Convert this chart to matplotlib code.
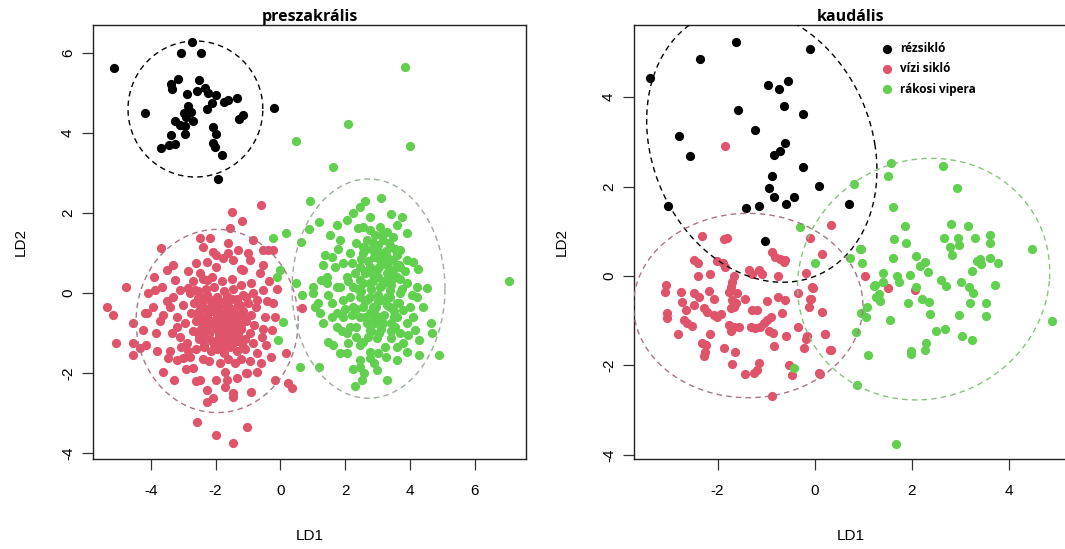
import numpy as np
import matplotlib
matplotlib.use("Agg")
import matplotlib.pyplot as plt

# ---------------- data ----------------
titles = ["preszakrális", "kaudális"]
species = ["rézsikló", "vízi sikló", "rákosi vipera"]
colors = ["#000000", "#DF536B", "#61D04F"]

# preszakrális – rézsikló (black)
pre_black_x = [-5.13, -2.71, -3.07, -2.44, -3.15, -3.38, -3.33, -2.50, -2.33, -2.57, -2.23, -2.88,
               -1.97, -2.12, -1.73, -1.61, -1.35, -2.84, -2.27, -4.18, -0.20, -2.97, -2.77, -2.91,
               -2.68, -3.25, -3.10, -2.94, -1.27, -1.14, -2.09, -1.99, -3.36, -2.95, -2.09, -2.03,
               -3.43, -3.24, -3.67, -1.81, -1.92]
pre_black_y = [5.62, 6.28, 6.00, 5.99, 5.35, 5.23, 5.10, 5.32, 5.13, 5.06, 5.01, 4.98,
               4.94, 4.76, 4.78, 4.82, 4.88, 4.68, 4.59, 4.49, 4.62, 4.49, 4.53, 4.39,
               4.31, 4.29, 4.20, 4.17, 4.36, 4.45, 4.16, 3.98, 3.95, 3.97, 3.74, 3.66,
               3.69, 3.72, 3.62, 3.46, 2.86]

# preszakrális – vízi sikló (red)
pre_red_x = [-0.61, -1.50, -1.19, -1.56, -2.48, -2.17, -1.61, -0.84, -3.68, -2.38, -2.07, -1.30,
             -0.53, -0.37, -0.22, -3.51, -4.77, -5.34, -5.16, -5.07, -4.54, -4.54, -4.54, -4.33,
             -4.13, -4.23, -4.18, -3.92, -4.08, -3.87, -3.66, -3.25, -3.10, -2.84, -3.61, -3.41,
             -3.20, -3.10, -2.89, -3.46, -3.20, -3.00, -2.79, -3.61, -3.28, -2.69, -2.48, -2.27,
             -2.27, -2.07, -1.97, -1.71, -1.45, -1.45, -0.89, -2.58, -1.97, -1.45, -1.04, -0.17,
             0.24, 0.35, 0.19, -0.22, -0.48, -0.27, 0.66, -0.73, -0.73, -1.04, -1.35, -1.66,
             -0.63, -0.53, -0.73, -0.58, -0.94, -1.14, -1.45, -1.76, -1.97, -2.27, -2.48, -2.27,
             -2.64,
             -2.70, -2.40, -2.10, -1.80, -1.50, -1.20, -0.90,
             -2.80, -2.55, -2.30, -2.05, -1.75, -1.45, -1.15, -0.85,
             -2.65, -2.40, -2.20, -1.95, -1.70, -1.50, -1.30, -1.00, -0.75,
             -2.75, -2.50, -2.30, -2.10, -1.90, -1.65, -1.40, -1.15, -0.90,
             -2.60, -2.35, -2.15, -1.95, -1.75, -1.55, -1.30, -1.05, -0.80,
             -2.70, -2.45, -2.25, -2.00, -1.80, -1.60, -1.40, -1.20, -0.95,
             -2.50, -2.30, -2.10, -1.90, -1.70, -1.50, -1.30, -1.10, -0.85,
             -2.60, -2.35, -2.15, -1.95, -1.75, -1.55, -1.35, -1.10,
             -2.40, -2.20, -1.85, -1.60, -1.40, -1.20, -0.95,
             -2.05, -1.85, -2.25, -1.55, -1.65, -2.00, -1.85, -2.45, -1.25,
             -3.30, -3.00, -3.20, -2.95, -3.05, -2.85, -3.35, -3.50, -3.70, -3.85, -3.40, -0.55,
             -0.45, -0.60, -0.35, -0.55, -1.20, -2.60, -2.85, -3.30, -2.00, -1.60, -1.00, -0.40,
             -2.90, -1.05, -1.70, -2.60, -3.80, -4.10, -3.90, -0.30, -0.15, -0.10,
             -2.55, -2.25, -1.95, -1.65, -1.35, -1.05, -2.45, -2.15, -1.85, -1.55, -1.25,
             -2.55, -2.25, -1.95, -1.65, -1.35, -1.05, -2.40, -2.10, -1.80, -1.50, -1.20,
             -2.50, -2.20, -1.90, -1.60, -1.30, -2.05, -1.75, -1.45, -2.35, -1.15]
pre_red_y = [2.21, 2.02, 1.81, 1.62, 1.37, 1.37, 1.24, 1.33, 1.12, 1.16, 1.03, 1.08,
             1.08, 1.08, 1.08, 0.58, 0.16, -0.34, -0.55, -1.26, -0.76, -1.26, -1.55, -1.38,
             -1.30, -0.93, -0.51, -0.34, -0.01, 0.08, 0.16, 0.33, 0.08, 0.12, -0.55, -0.34,
             -0.84, -1.09, -1.26, -1.63, -1.68, -1.63, -1.59, -1.97, -2.18, -1.88, -2.18, -2.43,
             -2.72, -2.63, -2.18, -1.97, -2.51, -2.60, -2.47, -3.22, -3.55, -3.76, -3.36, -2.18,
             -2.26, -2.38, -1.51, -0.26, -0.59, -0.93, -0.38, -1.51, -1.97, -2.01, -2.13, -2.18,
             0.49, 0.08, -0.18, -1.09, 0.83, 0.58, 0.83, 0.87, 0.66, 0.78, 0.49, 0.33,
             0.08,
             0.30, 0.35, 0.40, 0.30, 0.35, 0.20, 0.25,
             0.00, 0.05, 0.10, 0.15, 0.05, 0.10, -0.05, 0.00,
             -0.25, -0.20, -0.15, -0.10, -0.20, -0.15, -0.30, -0.25, -0.35,
             -0.50, -0.45, -0.40, -0.45, -0.35, -0.45, -0.50, -0.45, -0.55,
             -0.70, -0.65, -0.70, -0.60, -0.70, -0.65, -0.75, -0.70, -0.80,
             -0.95, -0.90, -0.85, -0.90, -0.95, -0.85, -0.95, -0.90, -1.00,
             -1.15, -1.10, -1.20, -1.10, -1.20, -1.10, -1.20, -1.15, -1.25,
             -1.40, -1.35, -1.45, -1.40, -1.50, -1.35, -1.45, -1.40,
             -1.65, -1.70, -1.75, -1.65, -1.75, -1.65, -1.70,
             -0.25, -0.50, -0.95, -0.95, -0.30, -0.75, -1.30, -0.10, -0.55,
             -0.10, -0.30, -0.60, -0.75, -1.35, -1.45, -1.00, -0.20, -0.70, -1.00, -1.45, -0.90,
             -1.30, -1.75, 0.30, 0.70, 0.60, 0.75, 0.55, 0.70, 0.95, 1.00, 1.00, -0.20,
             -1.90, -2.00, -2.35, -2.20, -1.45, -0.50, 0.40, -1.60, -0.60, 0.10,
             -0.12, -0.05, -0.18, -0.08, -0.15, -0.10, -0.35, -0.32, -0.28, -0.38, -0.30,
             -0.58, -0.55, -0.52, -0.60, -0.57, -0.62, -0.82, -0.78, -0.85, -0.80, -0.88,
             -1.05, -1.02, -1.00, -1.08, -1.05, -1.28, -1.30, -1.25, -1.30, -1.35]

# preszakrális – rákosi vipera (green)
pre_green_x = [3.84, 2.10, 4.01, 0.47, 1.63, 0.90, 7.05,
               1.20, 0.89, 0.19, -0.22, 0.64, -0.01, -0.11, 0.48, 0.66, 1.02, 1.17, 0.09, -0.06,
               0.60, 1.20, 1.32, 1.48, 1.63, 1.84, 2.05, 2.46, 2.25, 2.58, 2.30, 2.51, 2.97, 3.28,
               3.59, 3.90, 4.29, 4.90, 4.67, 4.64, 4.29, 4.41, 4.52, 4.21, 4.05, 4.26, 4.10, 3.90,
               3.74, 3.59, 3.43, 3.10, 2.77, 2.61, 2.46, 2.25, 2.05, 1.74, 1.53, 2.40, 1.79, 1.38,
               1.32, 1.43, 1.69, 1.48, 1.74, 1.94, 2.15, 2.05, 2.35, 2.56, 2.77, 2.97, 3.23, 3.43,
               3.69, 3.90, 3.79, 3.59, 3.38, 3.07, 2.77, 2.46, 2.25, 1.94, 1.84, 2.05, 1.94, 2.15,
               2.35, 2.66, 2.92, 3.18, 3.43, 3.69, 3.90, 3.69, 3.48, 3.28, 3.07, 2.87, 2.56, 2.46,
               2.77, 2.97, 3.28, 3.59, 3.90, 3.69, 3.38, 3.07, 2.77, 2.46, 2.25, 2.15, 2.46, 2.77,
               3.07, 3.38, 2.87, 2.56, 3.18, 2.92, 2.66, 3.43, 2.35, 1.74, 1.58, 1.84, 3.07, 2.77,
               3.28, 3.48, 3.02, 2.56, 4.21, 4.00, 4.10, 4.15, 3.95, 3.79, 3.59, 3.02, 2.77, 2.77,
               2.46, 1.74, 1.58, 1.22, 1.27, 1.02, 1.07,
               2.90, 3.10, 3.30, 3.50, 2.70, 3.00, 3.20, 3.40, 2.60, 2.80, 3.00, 3.30, 3.50, 2.90,
               2.60, 2.40, 2.30, 2.50, 2.20, 3.60, 3.70, 3.85, 3.35, 3.15, 2.85, 2.55, 2.10, 2.00,
               2.20, 3.65, 3.55, 3.05, 2.70, 2.45, 3.25, 2.90, 2.10, 1.90, 1.60, 1.45,
               2.65, 2.95, 3.25, 3.55, 2.75, 3.05, 3.35, 3.65, 2.55, 2.85, 3.15, 3.45,
               2.70, 3.00, 3.30, 3.60, 2.60, 2.90, 3.20, 3.50, 2.80, 3.10, 3.40, 2.50,
               3.15, 2.85, 3.45, 2.35, 3.75, 2.95]
pre_green_y = [5.64, 4.22, 3.68, 3.80, 3.16, 2.30, 0.30,
               1.78, 1.60, 1.51, 1.37, 1.27, 0.58, 0.41, 0.24, -0.05, -0.01, -0.26, -0.72, -1.18,
               -1.86, -1.86, -0.74, -1.22, -1.30, -1.51, -1.51, -1.68, -1.91, -2.01, -2.33, -2.18, -1.93, -2.18,
               -1.68, -1.47, -1.55, -1.55, -0.99, -0.74, -1.18, -0.34, 0.12, 0.16, -0.05, 0.59, 0.78, 1.49,
               1.89, 1.70, 1.98, 2.37, 1.91, 2.31, 2.16, 1.99, 1.83, 1.70, 1.45, 1.62, 1.09, 0.95,
               0.70, 0.41, 0.66, -0.05, -0.51, -0.59, -0.84, -1.01, -1.09, -1.22, -0.93, -1.13, -1.34, -1.13,
               -1.01, -0.76, -0.43, -0.59, -0.34, -0.59, -0.51, -0.59, -0.34, -0.18, 0.16, 0.41, 0.74, 0.99,
               1.24, 1.33, 1.45, 1.33, 1.16, 1.08, 0.83, 0.66, 0.83, 0.91, 0.83, 1.08, 0.99, 0.66,
               0.66, 0.58, 0.49, 0.41, 0.24, -0.01, 0.08, 0.16, 0.24, 0.33, 0.16, -0.09, -0.09, -0.09,
               -0.18, -0.09, -0.34, -0.34, -0.76, -0.76, -0.76, -0.76, -0.84, 0.16, 0.91, 1.33, 1.66, 1.58,
               1.53, 1.41, 1.20, 1.66, -0.09, -0.34, -0.59, -0.93, -1.05, -1.26, -1.34, -1.51, -1.47, -1.63,
               -1.84, -0.84, -0.59, -0.51, 0.33, 0.16, -0.34,
               0.90, 1.00, 0.70, 0.60, 0.80, 0.40, 0.30, 0.20, 0.50, 0.10, -0.05, -0.30, -0.45, -0.50,
               -0.20, 0.10, 0.50, 0.85, 0.75, 0.95, 0.35, 0.55, 1.25, 1.45, 1.25, 1.15, 0.30, -0.40,
               -0.55, -0.25, -0.85, -1.00, -1.10, -1.30, -1.60, -1.75, -1.25, -0.95, -0.25, 0.25,
               1.10, 1.15, 1.05, 1.10, 0.60, 0.65, 0.55, 0.70, 0.25, 0.30, 0.20, 0.35,
               -0.15, -0.20, -0.10, -0.25, -0.60, -0.65, -0.55, -0.60, -0.95, -0.90, -0.95, 0.05,
               0.80, 0.45, 0.45, -0.40, 0.10, -0.35]

# kaudális – rézsikló (black)
cau_black_x = [-1.63, -0.10, -2.36, -3.40, -0.96, -0.74, -0.56, -1.57, -0.64, -0.25, -2.79, -1.23,
               -2.56, -0.61, -0.71, -0.84, -0.25, -0.88, 0.08, -0.94, -0.84, -0.43, -0.60, -1.15,
               -1.42, -3.02, 0.71, -1.03]
cau_black_y = [5.23, 5.07, 4.84, 4.43, 4.26, 4.17, 4.35, 3.71, 3.79, 3.61, 3.13, 3.26,
               2.68, 2.98, 2.79, 2.70, 2.43, 2.23, 2.01, 1.97, 1.76, 1.77, 1.61, 1.56,
               1.53, 1.56, 1.61, 0.78]

# kaudális – vízi sikló (red)
cau_red_x = [-2.32, -1.86, -1.80, -0.10, -2.49, -2.41, -2.02, -1.89, -1.84, -0.88, -0.81, -0.71,
             -0.64, 0.14, -0.18, -1.36, -1.29, -1.15, -1.08, -0.76, -2.41, -2.15, -1.67, -1.70,
             -1.73, -1.77, -3.07, -3.09, -2.76, -2.49, -2.39, -2.18, -2.08, -2.73, -2.49, -1.60,
             -1.43, -1.70, -1.63, -0.98, -0.76, -0.62, -0.35, -0.04, -0.09, -0.12, 0.15, -2.27,
             -2.22, -2.08, -2.01, -1.93, -2.66, -3.04, -3.04, -1.73, -1.67, -1.29, -1.19, -0.67,
             -0.91, -0.98, -1.05, -1.12, -1.22, -1.31, -0.95, -0.86, -2.70, -2.63, -2.52, -1.77,
             -1.67, -1.56, -1.72, -2.81, -2.16, -0.34, -0.60, -0.16, -0.19, 0.20, -2.32, -2.23,
             -2.25, -2.27, -1.86, -1.65, -0.84, -0.23, 0.32, -1.71, -1.15, -1.19, -1.26, -1.44,
             -0.53, -0.47, 0.10, -0.88, 0.34, -0.05, 1.04, 0.21, 0.34, 0.08, -1.84, 1.51,
             2.06, -0.08, -0.62]
cau_red_y = [0.90, 0.82, 0.84, 0.84, 0.36, 0.30, 0.34, 0.28, 0.21, 0.53, 0.43, 0.37,
             0.32, 0.49, 0.07, 0.13, 0.04, 0.13, 0.04, -0.01, -0.01, 0.04, -0.01, -0.13,
             -0.24, -0.35, -0.20, -0.35, -0.35, -0.39, -0.46, -0.33, -0.51, -0.57, -0.65, -0.37,
             -0.52, -0.54, -0.61, -0.56, -0.46, -0.54, -0.37, -0.27, -0.51, -0.69, -0.80, -0.72,
             -0.80, -0.87, -0.91, -0.85, -0.77, -0.83, -0.94, -0.72, -0.69, -0.77, -0.76, -0.83,
             -0.91, -0.98, -1.06, -1.15, -1.17, -1.15, -1.24, -1.28, -0.98, -1.06, -1.12, -1.09,
             -1.15, -1.13, -1.24, -1.29, -1.29, -1.13, -1.34, -1.35, -1.41, -1.30, -1.49, -1.54,
             -1.69, -1.79, -1.61, -1.69, -1.56, -1.61, -1.65, -1.96, -1.94, -2.10, -2.16, -2.19,
             -1.99, -2.22, -2.19, -2.68, 1.14, -0.25, 0.00, -1.29, -1.65, -2.17, 2.90, -0.26,
             -0.31, -0.52, 0.36]

# kaudális – rákosi vipera (green)
cau_green_x = [1.56, 1.51, 2.63, 2.92, 0.80, 1.61, -0.31, 1.85, 2.81, 3.15, 1.63, 1.87,
               2.65, 2.95, 3.29, 3.60, 3.61, 2.78, 2.97, 2.83, 4.47, 0.95, 0.72, 1.61,
               2.08, 2.26, 2.16, 0.00, 0.98, 3.33, 3.40, 3.43, 3.60, 3.77, 3.24, 2.34,
               1.41, 1.95, 1.69, 1.73, 1.41, 1.22, 2.60, 2.70, 3.00, 3.17, 3.26, 3.70,
               2.08, 1.32, 1.34, 1.92, 2.20, 2.35, 3.20, 3.52, 1.08, 0.96, 1.05, 2.37,
               2.97, 3.52, 1.54, 4.88, 0.84, 2.50, 2.67, 3.03, 3.24, 2.28, 2.26, 1.99,
               1.98, 1.10, 0.86, 1.68, -0.43, 0.93, 1.23, 1.27]
cau_green_y = [2.52, 2.24, 2.46, 1.96, 2.05, 1.55, 1.09, 1.12, 1.16, 1.12, 0.83, 0.73,
               0.86, 0.86, 0.86, 0.92, 0.74, 0.64, 0.69, 0.47, 0.60, 0.61, 0.41, 0.41,
               0.45, 0.32, 0.23, 0.28, 0.30, 0.34, 0.37, 0.27, 0.41, 0.30, 0.11, 0.10,
               0.07, 0.03, -0.01, -0.13, -0.13, -0.22, -0.09, -0.22, -0.13, -0.24, -0.39, -0.19,
               -0.24, -0.40, -0.56, -0.60, -0.52, -0.57, -0.61, -0.60, -0.69, -0.82, -0.92, -0.85,
               -0.87, -0.89, -0.98, -1.00, -1.26, -1.23, -1.19, -1.33, -1.43, -1.49, -1.65, -1.67,
               -1.74, -1.76, -2.43, -3.75, -2.05, 0.60, -0.20, -0.46]

# ellipses: centre x, centre y, semi x, semi y, shear
pre_ell_cx = [-2.62, -1.95, 2.72]
pre_ell_cy = [4.60, -0.70, 0.11]
pre_ell_ax = [2.08, 2.50, 2.36]
pre_ell_ay = [1.70, 2.29, 2.74]
pre_ell_sh = [0.0, 0.0, 0.0]
cau_ell_cx = [-1.09, -1.37, 2.24]
cau_ell_cy = [2.92, -0.66, -0.07]
cau_ell_ax = [2.33, 2.36, 2.59]
cau_ell_ay = [3.06, 2.06, 2.70]
cau_ell_sh = [-0.43, 0.0, 0.16]

pre_ell_colors = ["#000000", "#A87585", "#9AAE98"]
cau_ell_colors = ["#000000", "#A87585", "#86C47C"]

# ---------------- plotting ----------------
tick_font = "Liberation Sans"
title_font = "Open Sans"

fig = plt.figure(figsize=(10.65, 5.49), dpi=100)
ax1 = fig.add_axes([93/1065, 1-459/549, 433/1065, 434/549])
ax2 = fig.add_axes([634/1065, 1-459/549, 433/1065, 434/549])

panels = [
    (ax1, [(pre_black_x, pre_black_y), (pre_red_x, pre_red_y), (pre_green_x, pre_green_y)],
     (pre_ell_cx, pre_ell_cy, pre_ell_ax, pre_ell_ay, pre_ell_sh), pre_ell_colors,
     (-5.78, 7.58), (-4.15, 6.70), [-4, -2, 0, 2, 4, 6], [-4, -2, 0, 2, 4, 6]),
    (ax2, [(cau_black_x, cau_black_y), (cau_red_x, cau_red_y), (cau_green_x, cau_green_y)],
     (cau_ell_cx, cau_ell_cy, cau_ell_ax, cau_ell_ay, cau_ell_sh), cau_ell_colors,
     (-3.72, 5.19), (-4.09, 5.61), [-2, 0, 2, 4], [-4, -2, 0, 2, 4]),
]

t = np.linspace(0, 2*np.pi, 300)
for i, (ax, series, ell, ecols, xl, yl, xt, yt) in enumerate(panels):
    for (xs, ys), c, lab in zip(series, colors, species):
        ax.scatter(xs, ys, s=44, color=c, linewidths=0, label=lab, zorder=2)
    cx, cy, axx, ayy, sh = ell
    for j in range(3):
        ex = cx[j] + axx[j]*np.cos(t) + sh[j]*np.sin(t)
        ey = cy[j] + ayy[j]*np.sin(t)
        ax.plot(ex, ey, color=ecols[j], lw=1.0, linestyle=(0, (4, 3)), zorder=3)
    ax.set_xlim(*xl)
    ax.set_ylim(*yl)
    ax.set_xticks(xt)
    ax.set_yticks(yt)
    ax.set_xticklabels([str(v) for v in xt], fontfamily=tick_font, fontsize=11)
    ax.set_yticklabels([str(v) for v in yt], fontfamily=tick_font, fontsize=11,
                       rotation=90, va="center")
    ax.tick_params(axis="both", direction="out", length=8, width=0.9, color="#333333")
    ax.tick_params(axis="x", pad=10)
    ax.tick_params(axis="y", pad=5)
    for sp in ax.spines.values():
        sp.set_linewidth(1.0)
        sp.set_color("#222222")
    ax.set_xlabel("LD1", fontfamily=tick_font, fontsize=11, labelpad=22)
    ax.set_ylabel("LD2", fontfamily=tick_font, fontsize=11, labelpad=24)
    ax.set_title(titles[i], fontfamily=title_font, fontweight="bold", fontsize=11.5, pad=2)

leg = ax2.legend(loc="upper left", bbox_to_anchor=(0.546, 0.972), frameon=False,
                 scatterpoints=1, handletextpad=0.1, labelspacing=0.62, borderaxespad=0,
                 prop={"family": title_font, "weight": "bold", "size": 8.5})

fig.savefig("out.png", dpi=100)
